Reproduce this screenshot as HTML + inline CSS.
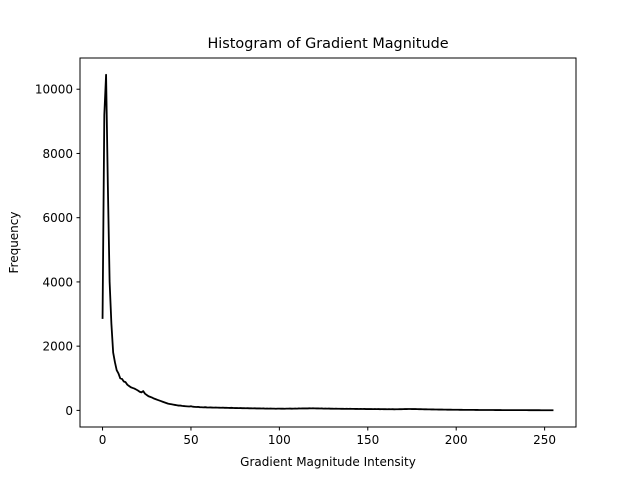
<!DOCTYPE html>
<html><head><meta charset="utf-8"><style>
body{margin:0;background:#fff}
svg text{font-family:"DejaVu Sans","Liberation Sans",sans-serif;fill:#000}
</style></head><body>
<svg id="c" width="640" height="480" xmlns="http://www.w3.org/2000/svg">
<rect width="640" height="480" fill="#fff"/>
<text x="328" y="48" font-size="14.4" text-anchor="middle">Histogram of Gradient Magnitude</text>
<text x="328" y="466" font-size="12" text-anchor="middle">Gradient Magnitude Intensity</text>
<text x="0" y="0" font-size="12" text-anchor="middle" transform="translate(18,242.5) rotate(-90)">Frequency</text>
<g id="ticks"></g>
<path id="line" fill="none" stroke="#000" stroke-width="1.8" stroke-linejoin="round"/>
<rect x="80" y="58" width="496" height="369" fill="none" stroke="#000" stroke-width="1"/>
</svg>
<script>
const values=[2850,9200,10450,7000,4000,2700,1800,1500,1250,1150,
1000,980,900,880,800,760,720,700,680,650,
620,580,560,600,520,480,440,420,400,370,
350,330,310,290,270,250,230,210,200,190,
180,170,160,150,150,140,135,130,125,120,
130,115,110,105,110,100,98,95,100,92,
90,92,88,85,90,86,84,82,85,80,
82,78,76,80,75,72,74,70,72,68,
70,66,68,64,66,62,64,60,62,60,
58,60,56,58,55,57,54,56,52,54,
55,53,56,52,54,55,57,53,55,58,
56,60,58,62,60,63,61,64,62,65,
63,60,62,58,60,56,58,55,57,53,
55,52,54,50,52,49,51,48,50,47,
49,46,48,45,47,44,46,43,45,42,
44,41,43,40,42,39,41,38,40,37,
39,36,38,35,37,34,36,35,37,38,
40,42,41,43,44,42,43,41,40,38,
37,35,34,33,32,31,30,29,28,27,
26,25,25,24,23,22,22,21,20,20,
19,19,18,18,17,17,16,16,15,15,
15,14,14,13,13,13,12,12,12,11,
11,11,10,10,10,10,9,9,9,9,
8,8,8,8,8,7,7,7,7,7,
7,6,6,6,6,6,6,6,5,5,
5,5,5,5,5,5];
const xTicks=[0,50,100,150,200,250];
const yTicks=[0,2000,4000,6000,8000,10000];
const L=80,R=576,T=58,B=427;
const n=values.length;
const xmin=-(n-1)*0.05,xmax=(n-1)*1.05;
const vmax=Math.max(...values),vmin=Math.min(...values);
const pad=(vmax-vmin)*0.05,ymin=vmin-pad,ymax=vmax+pad;
const X=v=>L+(v-xmin)/(xmax-xmin)*(R-L);
const Y=v=>B-(v-ymin)/(ymax-ymin)*(B-T);
document.getElementById('line').setAttribute('d',values.map((v,i)=>(i?'L':'M')+X(i).toFixed(2)+','+Y(v).toFixed(2)).join(''));
const g=document.getElementById('ticks');
const NS='http://www.w3.org/2000/svg';
xTicks.forEach(t=>{
 const l=document.createElementNS(NS,'line');
 
 
 l.setAttribute('x1',X(t));l.setAttribute('x2',X(t));l.setAttribute('y1',B);l.setAttribute('y2',B+3.5);l.setAttribute('stroke','#000');g.appendChild(l);
 const s=document.createElementNS(NS,'text');
 
 
 s.setAttribute('x',X(t));s.setAttribute('y',B+17);s.setAttribute('font-size','12');s.setAttribute('text-anchor','middle');s.textContent=t;g.appendChild(s);
});
yTicks.forEach(t=>{
 const l=document.createElementNS(NS,'line');
 
 
 l.setAttribute('x1',L-3.5);l.setAttribute('x2',L);l.setAttribute('y1',Y(t));l.setAttribute('y2',Y(t));l.setAttribute('stroke','#000');g.appendChild(l);
 const s=document.createElementNS(NS,'text');
 
 
 s.setAttribute('x',L-7);s.setAttribute('y',Y(t)+4.5);s.setAttribute('font-size','12');s.setAttribute('text-anchor','end');s.textContent=t;g.appendChild(s);
});
</script>
</body></html>
